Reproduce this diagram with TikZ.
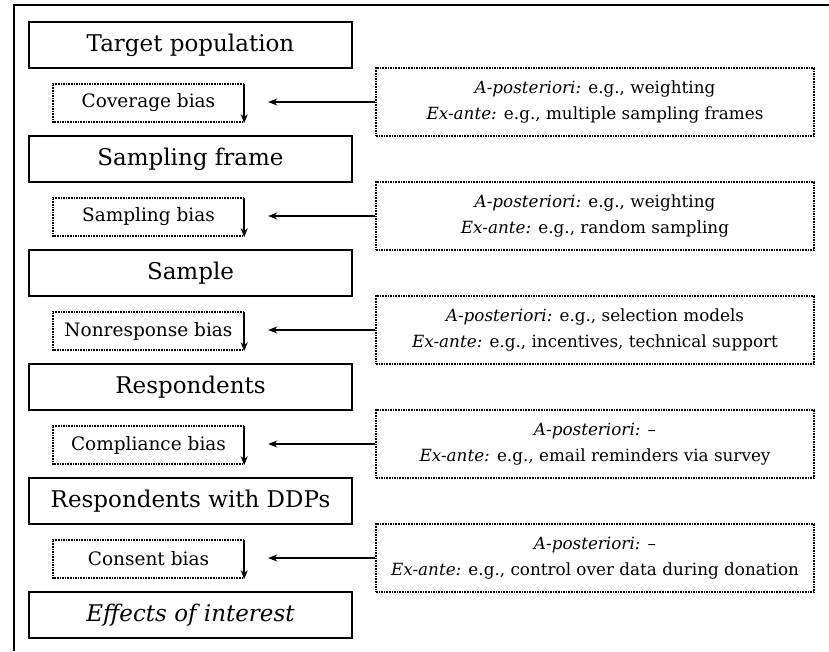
\documentclass[tikz,border=0pt]{standalone}
\usepackage{fontspec}
\setmainfont{DejaVu Serif}
\usetikzlibrary{arrows.meta,positioning}
\begin{document}
\begin{tikzpicture}[x=1pt,y=-1pt,
  mainbox/.style={draw,line width=1.8pt,minimum width=323pt,minimum height=46pt,inner sep=0pt,font=\fontsize{23}{27}\selectfont},
  biasbox/.style={minimum width=191pt,minimum height=38pt,inner sep=0pt,font=\fontsize{18.5}{22}\selectfont},
  notebox/.style={draw,densely dotted,line width=1.6pt,minimum width=438pt,minimum height=68pt,inner sep=0pt,align=center,font=\fontsize{16.8}{26}\selectfont},
  biasline/.style={densely dotted,line width=1.6pt},
  arr/.style={line width=2pt,-{Stealth[length=9pt,width=7pt]}}]
\useasboundingbox (0,0) rectangle (829,651);
\draw[line width=1.5pt] (14,651) -- (14,5) -- (829,5);

\node[mainbox] (m0) at (190.5,45) {Target population};
\node[mainbox] (m1) at (190.5,159) {Sampling frame};
\node[mainbox] (m2) at (190.5,273) {Sample};
\node[mainbox] (m3) at (190.5,387) {Respondents};
\node[mainbox] (m4) at (190.5,501) {Respondents with DDPs};
\node[mainbox] (m5) at (190.5,615) {\itshape Effects of interest};

\foreach \i/\t in {0/Coverage bias,1/Sampling bias,2/Nonresponse bias,3/Compliance bias,4/Consent bias}{
  \node[biasbox] (b\i) at (148.5,{103+114*\i}) {\t};
  \draw[biasline] (b\i.north east) -- (b\i.north west) -- (b\i.south west) -- (b\i.south east);
  \coordinate (bt\i) at ([yshift=-1pt]b\i.south east);
  \draw[arr] (b\i.north east) -- (bt\i);
  \coordinate (ae\i) at ([xshift=24pt]b\i.east);
}

\node[notebox] (n0) at (595,102) {\textit{A-posteriori:} e.g., weighting\\\textit{Ex-ante:} e.g., multiple sampling frames};
\node[notebox] (n1) at (595,216) {\textit{A-posteriori:} e.g., weighting\\\textit{Ex-ante:} e.g., random sampling};
\node[notebox] (n2) at (595,330) {\textit{A-posteriori:} e.g., selection models\\\textit{Ex-ante:} e.g., incentives, technical support};
\node[notebox] (n3) at (595,444) {\textit{A-posteriori:} –\\\textit{Ex-ante:} e.g., email reminders via survey};
\node[notebox] (n4) at (595,558) {\textit{A-posteriori:} –\\\textit{Ex-ante:} e.g., control over data during donation};

\foreach \i in {0,...,4}{
  \draw[arr] (n\i.west) -- (n\i.west -| ae\i);
}
\end{tikzpicture}
\end{document}
